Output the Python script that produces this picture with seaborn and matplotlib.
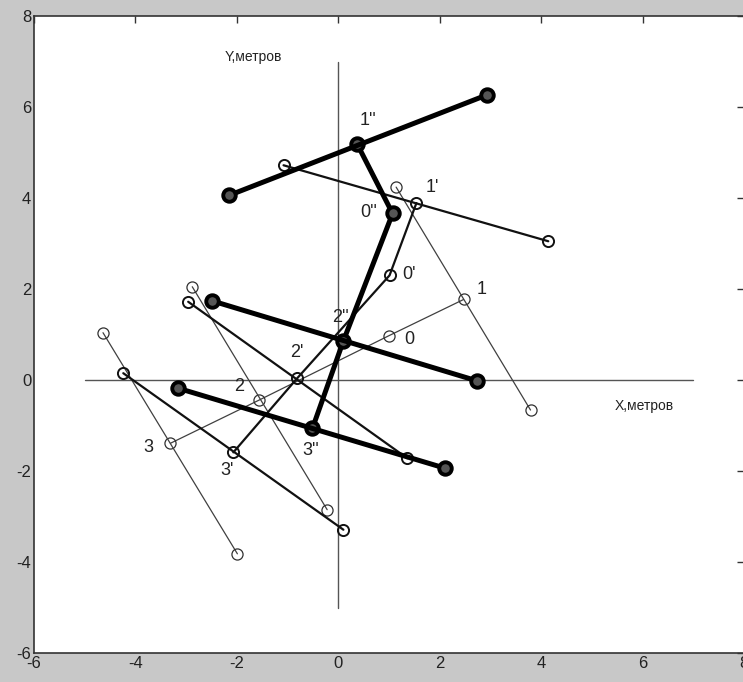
import matplotlib
matplotlib.use('Agg')
import matplotlib.pyplot as plt
import seaborn as sns
import pandas as pd

# --- positions (metres) ---
# thin chain 1-0-2-3 and the crossbars through 1, 2, 3
thin_chain_x = [2.47, 0.99, -1.56, -3.31]
thin_chain_y = [1.77, 0.97, -0.44, -1.39]
thin_bar1_x = [1.14, 3.79]
thin_bar1_y = [4.24, -0.66]
thin_bar2_x = [-2.88, -0.22]
thin_bar2_y = [2.05, -2.85]
thin_bar3_x = [-4.64, -1.99]
thin_bar3_y = [1.04, -3.82]

# medium chain 1'-0'-2'-3'
mid_chain_x = [1.54, 1.01, -0.81, -2.07]
mid_chain_y = [3.89, 2.30, 0.04, -1.59]
mid_bar1_x = [-1.08, 4.14]
mid_bar1_y = [4.72, 3.05]
mid_bar2_x = [-2.96, 1.36]
mid_bar2_y = [1.72, -1.72]
mid_bar3_x = [-4.24, 0.10]
mid_bar3_y = [0.15, -3.29]

# thick chain 1''-0''-2''-3''
thick_chain_x = [0.37, 1.07, 0.10, -0.51]
thick_chain_y = [5.19, 3.66, 0.86, -1.06]
thick_bar1_x = [-2.15, 2.94]
thick_bar1_y = [4.06, 6.27]
thick_bar2_x = [-2.49, 2.74]
thick_bar2_y = [1.74, -0.02]
thick_bar3_x = [-3.16, 2.11]
thick_bar3_y = [-0.18, -1.94]

# point labels
label_text = ["1''", "0''", "1'", "0'", "1", "2''", "0", "2'", "2", "3", "3'", "3''"]
label_x = [0.59, 0.60, 1.85, 1.40, 2.82, 0.04, 1.40, -0.81, -1.95, -3.75, -2.19, -0.55]
label_y = [5.70, 3.69, 4.24, 2.32, 1.99, 1.37, 0.88, 0.60, -0.15, -1.48, -1.99, -1.55]

# coordinate axes drawn inside the plot
axis_x = [-5, 7]
axis_y = [-5, 7]


def segments(parts):
    rows = []
    for i, (xs, ys) in enumerate(parts):
        for x, y in zip(xs, ys):
            rows.append({'seg': i, 'x': x, 'y': y})
    return pd.DataFrame(rows)


sns.set_style('white')
plt.rcParams['font.family'] = ['Liberation Sans', 'DejaVu Sans']
plt.rcParams['axes.unicode_minus'] = False

fig = plt.figure(figsize=(7.43, 6.82), dpi=100, facecolor='#c8c8c8')
ax = fig.add_axes([0.0458, 0.0425, 0.9556, 0.934])
ax.set_facecolor('white')

# reference cross
ax.plot(axis_x, [0, 0], color='#555555', lw=1.0, zorder=1)
ax.plot([0, 0], axis_y, color='#555555', lw=1.0, zorder=1)

thin = segments([(thin_chain_x, thin_chain_y), (thin_bar1_x, thin_bar1_y),
                 (thin_bar2_x, thin_bar2_y), (thin_bar3_x, thin_bar3_y)])
mid = segments([(mid_chain_x, mid_chain_y), (mid_bar1_x, mid_bar1_y),
                (mid_bar2_x, mid_bar2_y), (mid_bar3_x, mid_bar3_y)])
thick = segments([(thick_chain_x, thick_chain_y), (thick_bar1_x, thick_bar1_y),
                  (thick_bar2_x, thick_bar2_y), (thick_bar3_x, thick_bar3_y)])

sns.lineplot(data=thin, x='x', y='y', units='seg', estimator=None, sort=False,
             color='#404040', lw=0.9, marker='o', markersize=8,
             markerfacecolor='none', markeredgecolor='#303030', markeredgewidth=0.9,
             ax=ax, zorder=2)
sns.lineplot(data=mid, x='x', y='y', units='seg', estimator=None, sort=False,
             color='#111111', lw=1.6, marker='o', markersize=8,
             markerfacecolor='none', markeredgecolor='#111111', markeredgewidth=1.4,
             ax=ax, zorder=3)
sns.lineplot(data=thick, x='x', y='y', units='seg', estimator=None, sort=False,
             color='black', lw=3.6, marker='o', markersize=9,
             markerfacecolor='#555555', markeredgecolor='black', markeredgewidth=2.8,
             ax=ax, zorder=4)

for t, x, y in zip(label_text, label_x, label_y):
    ax.text(x, y, t, fontsize=13, color='#222222', ha='center', va='center', zorder=5)

ax.text(-2.25, 7.1, 'Y,метров', fontsize=10, color='#222222', ha='left', va='center')
ax.text(5.45, -0.57, 'X,метров', fontsize=10, color='#222222', ha='left', va='center')

ax.set_xlim(-6, 8)
ax.set_ylim(-6, 8)
ax.set_xticks(range(-6, 9, 2))
ax.set_yticks(range(-6, 9, 2))
ax.set_xlabel('')
ax.set_ylabel('')
ax.tick_params(direction='in', length=5, width=1, labelsize=12, color='#333333',
               labelcolor='#222222', top=True, right=True, pad=2)
for s in ax.spines.values():
    s.set_color('#333333')
    s.set_linewidth(1.2)
if ax.get_legend():
    ax.get_legend().remove()

fig.savefig('out.png', dpi=100, facecolor=fig.get_facecolor())
